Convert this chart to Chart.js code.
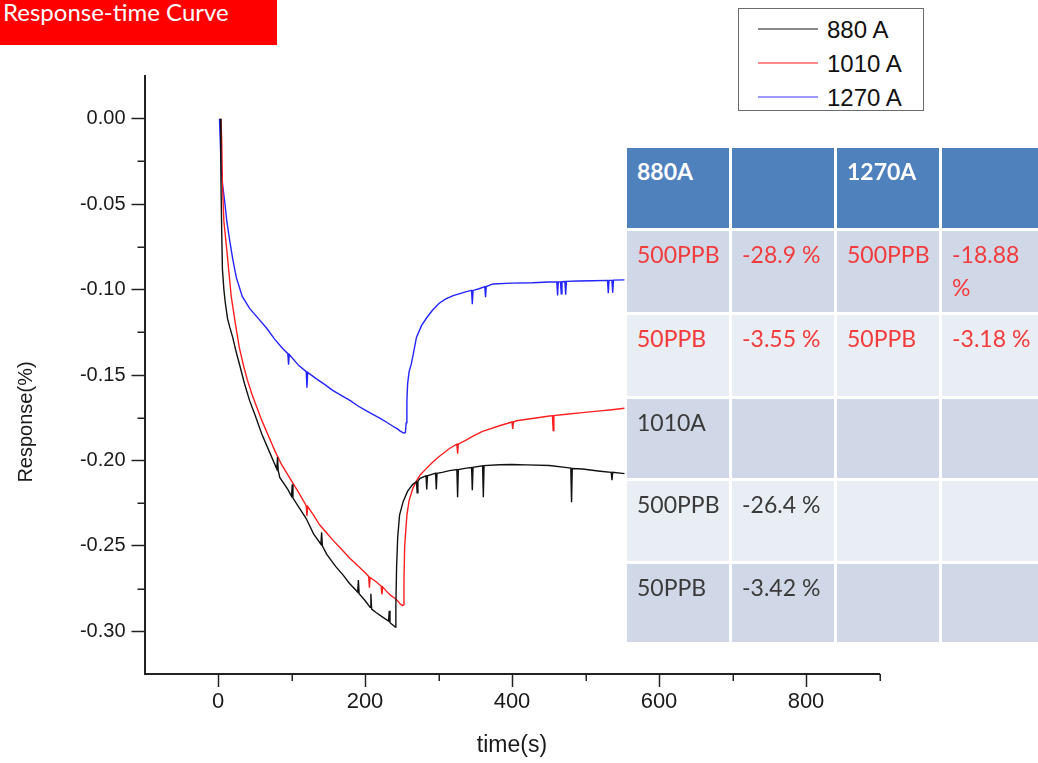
<!DOCTYPE html>
<html>
<head>
<meta charset="utf-8">
<script src="https://cdn.jsdelivr.net/npm/chart.js@4.4.1/dist/chart.umd.min.js"></script>
<style>
  html, body { margin: 0; padding: 0; background: #fff; }
  #wrap { position: relative; width: 1038px; height: 763px; overflow: hidden; }
  #chart { position: absolute; left: 0; top: 0; }
  #title {
    position: absolute; left: 0; top: 0; width: 277px; height: 45px;
    background: #ff0000; color: #fff; font-family: Lato, sans-serif; font-size: 24px;
    line-height: 24px; padding-left: 3px; box-sizing: border-box; white-space: nowrap;
  }
  #legend {
    position: absolute; left: 738px; top: 8px; width: 186px; height: 103px;
    box-sizing: border-box; border: 1.5px solid #6b6b6b; background: #fff;
  }
  .lg-line { position: absolute; left: 19px; width: 60px; height: 2.5px; }
  .lg-text {
    position: absolute; left: 88px; font-family: "Liberation Sans", Arial, sans-serif;
    font-size: 24px; line-height: 24px; color: #111; white-space: nowrap;
  }
  #table {
    position: absolute; left: 627px; top: 148px;
    display: grid; grid-template-columns: 102px 102px 102px 110px;
    grid-template-rows: 80px 81px 81px 79px 80px 78px; gap: 3px;
  }
  .cell {
    font-family: Lato, sans-serif; font-size: 23px; line-height: 33px;
    padding: 7px 0 0 10px; box-sizing: border-box; color: #3a3a3a; overflow: hidden;
  }
  .hd { background: #4f81bd; color: #fff; font-weight: bold; }
  .r1 { background: #d0d8e8; }
  .r2 { background: #e9edf4; }
  .red { color: #f23b3b; }
</style>
</head>
<body>
<div id="wrap">
  <canvas id="chart" width="1038" height="763"></canvas>
  <div id="title"></div>
  <div id="legend"></div>
  <div id="table"></div>
</div>
<script>
// Response curves: time (s) and response (%) for each current setting
const seriesNames = ['880 A', '1010 A', '1270 A'];

const time880 = [3.5, 4, 5, 6, 8, 10, 13, 16, 20, 25, 30, 36, 43, 50, 60, 70, 80, 81, 82, 84, 95, 100, 101, 102,
  111, 120, 130, 140, 141, 142, 148, 160, 170, 179, 190, 191, 192, 200, 207, 208, 209, 215, 225, 232, 233, 234,
  240, 241, 242, 243, 244.5, 247, 252, 258, 265, 270, 271, 272, 275, 283, 284, 285, 292, 296, 297, 298, 305, 315,
  325, 326, 327, 338, 345, 346, 347, 360, 361, 362, 383, 400, 420, 451, 475, 480, 481, 482, 496, 520, 535, 536, 537, 553];
const resp880 = [0, -0.036, -0.065, -0.088, -0.100, -0.108, -0.117, -0.122, -0.128, -0.137, -0.145, -0.155, -0.165,
  -0.173, -0.185, -0.195, -0.205, -0.198, -0.206, -0.210, -0.217, -0.221, -0.214, -0.222,
  -0.228, -0.234, -0.243, -0.249, -0.242, -0.250, -0.255, -0.262, -0.267, -0.272, -0.277, -0.270, -0.278, -0.282,
  -0.286, -0.278, -0.287, -0.289, -0.292, -0.294, -0.288, -0.295,
  -0.297, -0.2975, -0.285, -0.262, -0.245, -0.232, -0.224, -0.218, -0.214, -0.2125, -0.219, -0.212, -0.2105,
  -0.209, -0.217, -0.209, -0.208, -0.2075, -0.217, -0.2075, -0.207, -0.206,
  -0.2053, -0.2215, -0.2053, -0.2045, -0.2042, -0.2175, -0.2040, -0.2032, -0.2215, -0.2030, -0.2025, -0.2024,
  -0.2026, -0.203, -0.2042, -0.2045, -0.2245, -0.2047, -0.205, -0.2063, -0.207, -0.2115, -0.207, -0.2077];

const time1010 = [4, 5, 6, 8, 12, 18, 24, 29, 35, 40, 46, 52, 60, 70, 78, 86, 100, 110, 120, 121, 122, 130, 138,
  147, 156, 168, 180, 191, 202, 205, 206, 207, 215, 222, 223, 224, 229, 235, 240, 244, 248, 251, 252, 253, 254,
  257, 260, 265, 270, 275, 284, 292, 300, 315, 325, 326, 327, 338, 350, 360, 383, 400, 401, 402, 406, 430, 451,
  455, 456, 457, 474, 496, 520, 536, 553];
const resp1010 = [0, -0.012, -0.038, -0.060, -0.077, -0.104, -0.121, -0.134, -0.145, -0.153, -0.161, -0.168, -0.177,
  -0.187, -0.195, -0.202, -0.212, -0.219, -0.2265, -0.2325, -0.227, -0.232, -0.2375,
  -0.242, -0.2465, -0.252, -0.2575, -0.262, -0.2665, -0.268, -0.2745, -0.2685, -0.271, -0.2735, -0.2785, -0.274,
  -0.2765, -0.279, -0.2805, -0.282, -0.284, -0.285, -0.2845, -0.270, -0.250,
  -0.232, -0.2235, -0.2165, -0.212, -0.2085, -0.2045, -0.201, -0.198, -0.193, -0.1905, -0.196, -0.1905, -0.188,
  -0.185, -0.183, -0.1797, -0.1775, -0.1815, -0.1775, -0.1768, -0.1753, -0.174,
  -0.1738, -0.1825, -0.1738, -0.173, -0.172, -0.171, -0.1703, -0.1695];

const time1270 = [2, 3, 4, 6, 9, 12, 16, 20, 25, 33, 43, 55, 66, 77, 88, 95, 96, 97, 110, 120, 121, 122, 133, 145,
  156, 170, 180, 190, 202, 220, 230, 238, 244, 248, 252, 254, 255, 256, 257, 258, 260, 263, 266, 270, 277, 284,
  292, 301, 310, 320, 338, 345, 346, 347, 355, 363, 364, 365, 374, 400, 428, 450, 461, 462, 463, 466, 467, 468,
  472, 473, 474, 490, 510, 530, 531, 532, 536, 537, 538, 553];
const resp1270 = [0, -0.012, -0.025, -0.038, -0.048, -0.060, -0.0715, -0.082, -0.093, -0.104, -0.111, -0.117,
  -0.1225, -0.129, -0.1345, -0.1375, -0.144, -0.138, -0.1445, -0.148, -0.1575, -0.1485, -0.152, -0.1555,
  -0.159, -0.1625, -0.165, -0.168, -0.171, -0.1752, -0.1778, -0.180, -0.1815, -0.1828, -0.1838, -0.184, -0.1835,
  -0.178, -0.165, -0.155, -0.148, -0.1435, -0.137, -0.128, -0.121, -0.1165,
  -0.112, -0.108, -0.1055, -0.1035, -0.1012, -0.1005, -0.1085, -0.1005, -0.0995, -0.0983, -0.1045, -0.0982,
  -0.0967, -0.0962, -0.096, -0.0956, -0.0955, -0.1035, -0.0955, -0.0955, -0.1025, -0.0954,
  -0.0953, -0.1030, -0.0952, -0.0950, -0.0948, -0.0946, -0.1022, -0.0946, -0.0946, -0.1018, -0.0945, -0.0943];

// Axis ticks
const xMajorTicks = [0, 200, 400, 600, 800];
const xMinorTicks = [100, 300, 500, 700, 900];
const yMajorTicks = [0, -0.05, -0.10, -0.15, -0.20, -0.25, -0.30];
const yMinorTicks = [-0.025, -0.075, -0.125, -0.175, -0.225, -0.275];

const chartTitle = 'Response-time Curve';
const xTitle = 'time(s)';
const yTitle = 'Response(%)';

// Summary table
const tableRows = [
  [['880A', ''], ['', ''], ['1270A', ''], ['', '']],
  [['500PPB', 'red'], ['-28.9 %', 'red'], ['500PPB', 'red'], ['-18.88<br>%', 'red']],
  [['50PPB', 'red'], ['-3.55 %', 'red'], ['50PPB', 'red'], ['-3.18 %', 'red']],
  [['1010A', ''], ['', ''], ['', ''], ['', '']],
  [['500PPB', ''], ['-26.4 %', ''], ['', ''], ['', '']],
  [['50PPB', ''], ['-3.42 %', ''], ['', ''], ['', '']]
];

const lineColors = ['#111111', '#ff1f1f', '#2424ff'];
const legendColors = ['#8a8a8a', '#ff8a8a', '#9a9aff'];

document.getElementById('title').textContent = chartTitle;

const legend = document.getElementById('legend');
seriesNames.forEach((name, i) => {
  const y = 20 + i * 34;
  const ln = document.createElement('div');
  ln.className = 'lg-line';
  ln.style.top = (y - 1.25) + 'px';
  ln.style.background = legendColors[i];
  legend.appendChild(ln);
  const tx = document.createElement('div');
  tx.className = 'lg-text';
  tx.style.top = (y - 11.5) + 'px';
  tx.textContent = name;
  legend.appendChild(tx);
});

const table = document.getElementById('table');
tableRows.forEach((row, r) => {
  row.forEach(([text, cls]) => {
    const c = document.createElement('div');
    c.className = 'cell ' + (r === 0 ? 'hd' : (r % 2 === 1 ? 'r1' : 'r2')) + (cls ? ' ' + cls : '');
    c.innerHTML = text;
    table.appendChild(c);
  });
});

const toPoints = (ts, vs) => ts.map((t, i) => ({ x: t, y: vs[i] }));
const seriesData = [toPoints(time880, resp880), toPoints(time1010, resp1010), toPoints(time1270, resp1270)];

const axisFont = { family: '"Liberation Sans", Arial, sans-serif' };

// Short minor tick marks and the rotated y-axis title
const extras = {
  id: 'extras',
  afterDraw(chart) {
    const { ctx, chartArea, scales: { x, y } } = chart;
    ctx.save();
    ctx.strokeStyle = '#222';
    ctx.lineWidth = 1.5;
    ctx.beginPath();
    xMinorTicks.forEach(v => {
      const px = Math.round(x.getPixelForValue(v)) + 0.25;
      ctx.moveTo(px, chartArea.bottom);
      ctx.lineTo(px, chartArea.bottom + 7);
    });
    yMinorTicks.forEach(v => {
      const py = Math.round(y.getPixelForValue(v)) + 0.25;
      ctx.moveTo(chartArea.left, py);
      ctx.lineTo(chartArea.left - 7, py);
    });
    ctx.stroke();
    ctx.translate(26, 422);
    ctx.rotate(-Math.PI / 2);
    ctx.fillStyle = '#1a1a1a';
    ctx.font = '20px "Liberation Sans", Arial, sans-serif';
    ctx.textAlign = 'center';
    ctx.textBaseline = 'middle';
    ctx.fillText(yTitle, 0, 0);
    ctx.restore();
  }
};

new Chart(document.getElementById('chart'), {
  type: 'scatter',
  data: {
    datasets: seriesNames.map((name, i) => ({
      label: name,
      data: seriesData[i],
      showLine: true,
      borderColor: lineColors[i],
      backgroundColor: lineColors[i],
      borderWidth: 1.4,
      pointRadius: 0,
      tension: 0
    }))
  },
  options: {
    responsive: false,
    animation: false,
    devicePixelRatio: 1,
    layout: { padding: { left: 0, right: 158.5, top: 76, bottom: 0 } },
    plugins: { legend: { display: false }, title: { display: false }, tooltip: { enabled: false } },
    scales: {
      x: {
        type: 'linear', min: -100, max: 900,
        afterBuildTicks: s => { s.ticks = xMajorTicks.map(v => ({ value: v })); },
        afterFit: s => { s.height = 89; },
        grid: { drawOnChartArea: false, drawTicks: true, tickLength: 13, tickColor: '#222', tickWidth: 1.5 },
        border: { display: true, color: '#222', width: 2 },
        ticks: { padding: 2, color: '#1a1a1a', font: { ...axisFont, size: 22 }, autoSkip: false, maxRotation: 0 },
        title: { display: true, text: xTitle, color: '#1a1a1a', font: { ...axisFont, size: 23 }, padding: { top: 0, bottom: 4 } }
      },
      y: {
        type: 'linear', min: -0.325, max: 0.025,
        afterBuildTicks: s => { s.ticks = yMajorTicks.map(v => ({ value: v })); },
        afterFit: s => { s.width = 144.5; },
        grid: { drawOnChartArea: false, drawTicks: true, tickLength: 13, tickColor: '#222', tickWidth: 1.5 },
        border: { display: true, color: '#222', width: 2 },
        ticks: { padding: 6, color: '#1a1a1a', font: { ...axisFont, size: 20 }, autoSkip: false,
          callback: v => Number(v).toFixed(2) }
      }
    }
  },
  plugins: [extras]
});
</script>
</body>
</html>
